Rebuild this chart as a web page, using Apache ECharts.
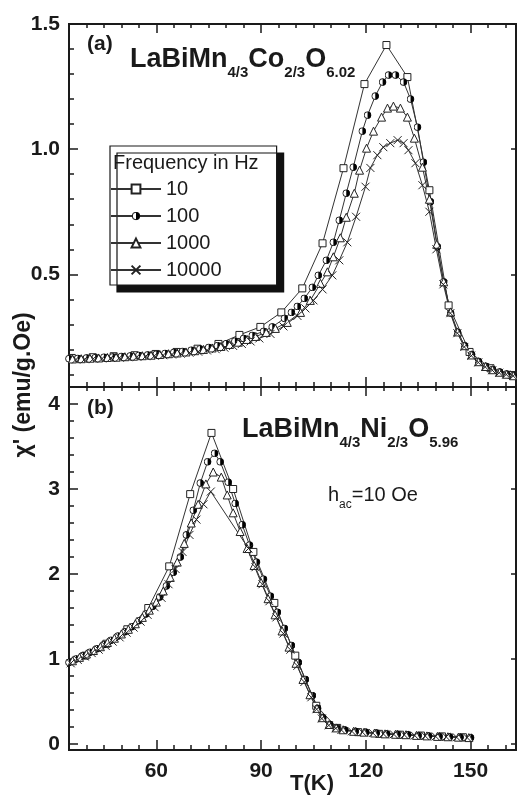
<!DOCTYPE html>
<html><head><meta charset="utf-8">
<script src="https://cdn.jsdelivr.net/npm/echarts@6/dist/echarts.min.js"></script>
<style>html,body{margin:0;padding:0;background:#fff}#c{width:517px;height:796px}</style>
</head><body><div id="c"></div>
<script>
// ---------- data : panel (a) LaBiMn4/3Co2/3O6.02 ----------
const seriesNames = ['10', '100', '1000', '10000'];
const a10T = [35.8,41.8,47.8,53.8,59.8,65.8,71.8,77.8,83.8,89.8,95.8,101.8,107.6,113.6,119.6,125.9,131.9,138.2,143.7,149.7,155.7,161.7];
const a10Chi = [0.166,0.169,0.173,0.177,0.182,0.190,0.203,0.222,0.258,0.290,0.348,0.444,0.624,0.924,1.260,1.416,1.288,0.836,0.376,0.190,0.125,0.098];
const a100T = [35,37.5,40,42.5,45,47.5,50,52.5,55,57.5,60,62.5,65,67.5,70,72.5,75,77.5,80,82.5,85,87.5,
  90.7,93.2,96.7,98.7,100.4,102.4,104.7,106.4,108.7,110.7,112.4,114.4,116.4,119,120.5,122.7,124.8,126.5,128.5,130.8,132.8,134.8,136.5,138.5,140.5,142.3,144.3,146.3,148.3,150.3,152.3,154.3,156.3,158.3,160.3,162.3];
const a100Chi = [0.163,0.164,0.166,0.167,0.169,0.170,0.172,0.174,0.176,0.178,0.181,0.184,0.188,0.192,0.197,0.202,0.208,0.215,0.223,0.233,0.244,0.256,
  0.272,0.29,0.324,0.348,0.372,0.404,0.448,0.496,0.556,0.628,0.716,0.824,0.928,1.072,1.136,1.212,1.268,1.296,1.296,1.268,1.2,1.088,0.948,0.79,0.61,0.47,0.345,0.268,0.215,0.18,0.152,0.133,0.12,0.11,0.102,0.096];
const a1000T = [36,38.5,41,43.5,46,48.5,51,53.5,56,58.5,61,63.5,66,68.5,71,73.5,76,78.5,81,83.5,86,88.5,
  91.5,94.1,97.5,101.3,104.1,107,109,110.7,112.7,114.4,116.7,118.2,120.2,122.2,124.5,126.2,127.9,129.9,131.9,133.9,136.2,138.2,140.3,142.3,144.3,146.3,148.3,150.3,152.3,154.3,156.3,158.3,160.3,162.3];
const a1000Chi = [0.162,0.163,0.165,0.166,0.168,0.169,0.171,0.173,0.175,0.177,0.180,0.183,0.186,0.190,0.195,0.200,0.206,0.212,0.220,0.229,0.240,0.252,
  0.268,0.284,0.308,0.348,0.396,0.464,0.51,0.57,0.646,0.728,0.824,0.916,1.004,1.072,1.128,1.164,1.172,1.164,1.128,1.044,0.928,0.80,0.62,0.47,0.35,0.27,0.215,0.178,0.151,0.132,0.119,0.109,0.101,0.095];
const a10000T = [37,39.5,42,44.5,47,49.5,52,54.5,57,59.5,62,64.5,67,69.5,72,74.5,77,79.5,82,84.5,87,89.5,
  92.7,96.4,100.4,102.7,105,107.6,110.4,112.4,114.7,117.2,119.9,121.3,123.3,125,127,129.1,130.8,132.2,134.2,136.2,138.2,140.2,142.2,144.2,146.2,148.2,150.2,152.2,154.2,156.2,158.2,160.2,162.2];
const a10000Chi = [0.160,0.161,0.163,0.164,0.166,0.167,0.169,0.171,0.173,0.175,0.177,0.180,0.183,0.187,0.191,0.196,0.201,0.207,0.214,0.222,0.232,0.244,
  0.262,0.292,0.334,0.364,0.396,0.44,0.496,0.556,0.628,0.73,0.85,0.925,0.976,1.008,1.024,1.036,1.024,0.996,0.944,0.856,0.75,0.6,0.46,0.345,0.265,0.21,0.175,0.148,0.13,0.117,0.107,0.1,0.094];

// ---------- data : panel (b) LaBiMn4/3Ni2/3O5.96 ----------
const b10T = [39.7,45.7,51.7,57.7,63.7,69.7,75.8,82.0,87.8,93.8,99.8,105.8,111.8,117.8,123.8,129.8,135.8,141.8,147.8];
const b10Chi = [1.04,1.18,1.35,1.60,2.09,2.94,3.66,3.00,2.26,1.66,1.04,0.45,0.19,0.14,0.12,0.11,0.10,0.09,0.08];
const b100T = [35,37,39,41,43,45,47,49,51,53,55,57,59,61,
  62.9,64.9,66.9,68.6,70.6,72.6,74.7,76.7,78.3,80.6,82.6,84.6,86.7,88.7,90.7,92.7,94.7,96.7,98.7,100.7,102.7,104.7,106.2,107.7,109.7,111.7,114,117,120,123,126,129,132,135,138,141,144,147,150];
const b100Chi = [0.96,1.0,1.04,1.08,1.12,1.17,1.22,1.27,1.32,1.38,1.45,1.53,1.62,1.73,
  1.86,2.02,2.2,2.46,2.75,3.07,3.32,3.42,3.32,3.08,2.83,2.58,2.34,2.14,1.94,1.74,1.55,1.36,1.16,0.96,0.76,0.57,0.42,0.31,0.23,0.19,0.165,0.15,0.14,0.13,0.12,0.115,0.11,0.1,0.095,0.09,0.085,0.08,0.075];
const b1000T = [36,38,40,42,44,46,48,50,52,54,56,58,60,
  62,64,66,68,70,72,74.2,76.3,78.6,80.3,82,84,86,88,90,92,94,96,98,100,102,104,106,107.5,109.5,111.5,113.5,116.5,119.5,122.5,125.5,128.5,131.5,134.5,137.5,140.5,143.5,146.5,149.5];
const b1000Chi = [0.98,1.02,1.06,1.10,1.145,1.195,1.245,1.295,1.35,1.415,1.49,1.575,1.67,
  1.80,1.96,2.14,2.36,2.60,2.82,3.06,3.20,3.14,2.93,2.72,2.50,2.30,2.10,1.90,1.71,1.52,1.33,1.14,0.95,0.76,0.58,0.42,0.31,0.23,0.19,0.168,0.15,0.14,0.13,0.12,0.115,0.11,0.102,0.096,0.09,0.086,0.081,0.076];
const b10000T = [35.5,37.5,39.5,41.5,43.5,45.5,47.5,49.5,51.5,53.5,55.5,57.5,59.5,
  61.5,63.5,65.5,67.5,69.5,71.5,73.5,75.6,86.4,88.4,90.4,92.4,94.4,96.4,98.4,100.4,102.4,104.4,105.9,107.4,109.4,111.4,113,116,119,122,125,128,131,134,137,140,143,146,149];
const b10000Chi = [0.95,0.99,1.03,1.07,1.11,1.155,1.205,1.255,1.31,1.37,1.44,1.52,1.61,
  1.72,1.88,2.06,2.26,2.46,2.64,2.82,2.97,2.30,2.08,1.88,1.68,1.49,1.30,1.11,0.92,0.73,0.55,0.41,0.30,0.22,0.185,0.165,0.15,0.14,0.13,0.12,0.115,0.108,0.10,0.095,0.09,0.085,0.08,0.076];

// ---------- ticks ----------
const xMinorTicks = [40,45,50,55,65,70,75,80,85,95,100,105,110,115,125,130,135,140,145,155,160];
const xMajorTicks = [60, 90, 120, 150];
const yTopMinorTicks = [0.1,0.2,0.3,0.4,0.6,0.7,0.8,0.9,1.1,1.2,1.3,1.4];
const yTopMajorTicks = [0.5, 1.0, 1.5];
const yBotMinorTicks = [0.2,0.4,0.6,0.8,1.2,1.4,1.6,1.8,2.2,2.4,2.6,2.8,3.2,3.4,3.6,3.8];
const yBotMajorTicks = [0, 1, 2, 3, 4];

// ---------- styling ----------
const FF = "'Liberation Sans', Arial, sans-serif";
const INK = '#1a1a1a';
const halfSvg = "<svg xmlns='http://www.w3.org/2000/svg' width='24' height='24' viewBox='0 0 24 24'><circle cx='12' cy='12' r='10.3' fill='white'/><path d='M12 1.7 A10.3 10.3 0 0 1 12 22.3 Z' fill='black'/><circle cx='12' cy='12' r='10.3' fill='none' stroke='black' stroke-width='2.6'/></svg>";
const halfCircle = 'image://data:image/svg+xml;charset=utf-8,' + encodeURIComponent(halfSvg);
const symbols = {
  '10': {symbol: 'rect', size: 7},
  '100': {symbol: halfCircle, size: 8},
  '1000': {symbol: 'triangle', size: 8},
  '10000': {symbol: 'path://M0,0L10,10M10,0L0,10', size: 8}
};

function zip(T, C) { return T.map((t, i) => [t, C[i]]); }

function xAxesFor(grid, labels) {
  const base = {type: 'value', gridIndex: grid, min: 35, max: 163, splitLine: {show: false},
    axisLine: {show: true, onZero: false, lineStyle: {color: INK, width: 2}}};
  const tickStyle = {color: INK, width: 1.5};
  const labelOff = {show: false};
  return [
    Object.assign({}, base, {position: 'bottom', axisTick: {inside: true, length: 5, customValues: xMinorTicks, lineStyle: tickStyle}, axisLabel: labelOff}),
    Object.assign({}, base, {position: 'bottom', axisTick: {inside: true, length: 10, customValues: xMajorTicks, lineStyle: tickStyle},
      axisLabel: labels ? {show: true, customValues: xMajorTicks, margin: 11, fontSize: 21, fontWeight: 'bold', fontFamily: FF, color: INK} : labelOff}),
    Object.assign({}, base, {position: 'top', axisTick: {inside: true, length: 4, customValues: xMinorTicks, lineStyle: tickStyle}, axisLabel: labelOff}),
    Object.assign({}, base, {position: 'top', axisTick: {inside: true, length: 9, customValues: xMajorTicks, lineStyle: tickStyle}, axisLabel: labelOff})
  ];
}
function yAxesFor(grid, min, max, minor, major, fmt) {
  const base = {type: 'value', gridIndex: grid, min: min, max: max, splitLine: {show: false},
    axisLine: {show: true, onZero: false, lineStyle: {color: INK, width: 2}}};
  const tickStyle = {color: INK, width: 1.5};
  return [
    Object.assign({}, base, {position: 'left', axisTick: {inside: true, length: 5, customValues: minor, lineStyle: tickStyle}, axisLabel: {show: false}}),
    Object.assign({}, base, {position: 'left', axisTick: {inside: true, length: 9, customValues: major, lineStyle: tickStyle},
      axisLabel: {show: true, customValues: major, margin: 9, formatter: fmt, fontSize: 21, fontWeight: 'bold', fontFamily: FF, color: INK}}),
    Object.assign({}, base, {position: 'right', axisTick: {inside: true, length: 5, customValues: major, lineStyle: tickStyle}, axisLabel: {show: false}})
  ];
}

function mkSeries(name, T, C, grid) {
  const s = symbols[name];
  return {
    type: 'line', name: name, xAxisIndex: grid * 4, yAxisIndex: grid * 3,
    data: zip(T, C), symbol: s.symbol, symbolSize: s.size, showSymbol: true,
    lineStyle: {color: '#333', width: 1},
    itemStyle: {color: '#fff', borderColor: '#222', borderWidth: 1},
    emphasis: {disabled: true}, animation: false, clip: true
  };
}

const titleRich = {
  m: {fontSize: 27, fontWeight: 'bold', fontFamily: FF, verticalAlign: 'bottom', padding: [0, 0, 7, 0], fill: INK},
  s: {fontSize: 15, fontWeight: 'bold', fontFamily: FF, verticalAlign: 'bottom', fill: INK}
};

const chart = echarts.init(document.getElementById('c'), null, {renderer: 'canvas'});
const option = {
  backgroundColor: '#fff',
  animation: false,
  grid: [
    {left: 69, top: 24, width: 447, height: 363},
    {left: 69, top: 387, width: 447, height: 363}
  ],
  xAxis: xAxesFor(0, false).concat(xAxesFor(1, true)),
  yAxis: yAxesFor(0, 0.05, 1.5, yTopMinorTicks, yTopMajorTicks, v => v.toFixed(1))
    .concat(yAxesFor(1, -0.07, 4.2, yBotMinorTicks, yBotMajorTicks, v => String(Math.round(v)))),
  legend: {
    data: seriesNames, orient: 'vertical', left: 110, top: 146,
    itemWidth: 50, itemHeight: 11, itemGap: 7, padding: [33, 55, 5, 0],
    backgroundColor: '#fff', borderColor: INK, borderWidth: 1.2, borderRadius: 0,
    shadowColor: '#111', shadowBlur: 0, shadowOffsetX: 7, shadowOffsetY: 7,
    selectedMode: false,
    textStyle: {fontSize: 20, fontFamily: FF, color: INK}
  },
  series: [
    mkSeries('10', a10T, a10Chi, 0),
    mkSeries('100', a100T, a100Chi, 0),
    mkSeries('1000', a1000T, a1000Chi, 0),
    mkSeries('10000', a10000T, a10000Chi, 0),
    mkSeries('10', b10T, b10Chi, 1),
    mkSeries('100', b100T, b100Chi, 1),
    mkSeries('1000', b1000T, b1000Chi, 1),
    mkSeries('10000', b10000T, b10000Chi, 1)
  ],
  graphic: [
    {type: 'text', left: 113, top: 153, z: 100, style: {text: 'Frequency in Hz', font: '20px ' + FF, fill: INK}},
    {type: 'text', left: 87, top: 34, z: 100, style: {text: '(a)', font: 'bold 21px ' + FF, fill: INK}},
    {type: 'text', left: 87, top: 398, z: 100, style: {text: '(b)', font: 'bold 21px ' + FF, fill: INK}},
    {type: 'text', left: 130, top: 46, z: 100, style: {
      text: '{m|LaBiMn}{s|4/3}{m|Co}{s|2/3}{m|O}{s|6.02}', fill: INK, rich: titleRich}},
    {type: 'text', left: 242, top: 416, z: 100, style: {
      text: '{m|LaBiMn}{s|4/3}{m|Ni}{s|2/3}{m|O}{s|5.96}', fill: INK, rich: titleRich}},
    {type: 'text', left: 328, top: 485, z: 100, style: {
      text: '{h|h}{a|ac}{h|=10 Oe}', fill: INK,
      rich: {h: {fontSize: 20, fontFamily: FF, verticalAlign: 'bottom', padding: [0, 0, 6, 0], fill: INK},
             a: {fontSize: 12, fontFamily: FF, verticalAlign: 'bottom', fill: INK}}}},
    {type: 'text', x: 24, y: 385, rotation: Math.PI / 2, z: 100, style: {
      text: "\u03C7' (emu/g.Oe)", font: 'bold 23px ' + FF, fill: INK, align: 'center', verticalAlign: 'middle'}},
    {type: 'text', x: 312, y: 784, z: 100, style: {
      text: 'T(K)', font: 'bold 22px ' + FF, fill: INK, align: 'center', verticalAlign: 'middle'}}
  ]
};
chart.setOption(option);
</script></body></html>
